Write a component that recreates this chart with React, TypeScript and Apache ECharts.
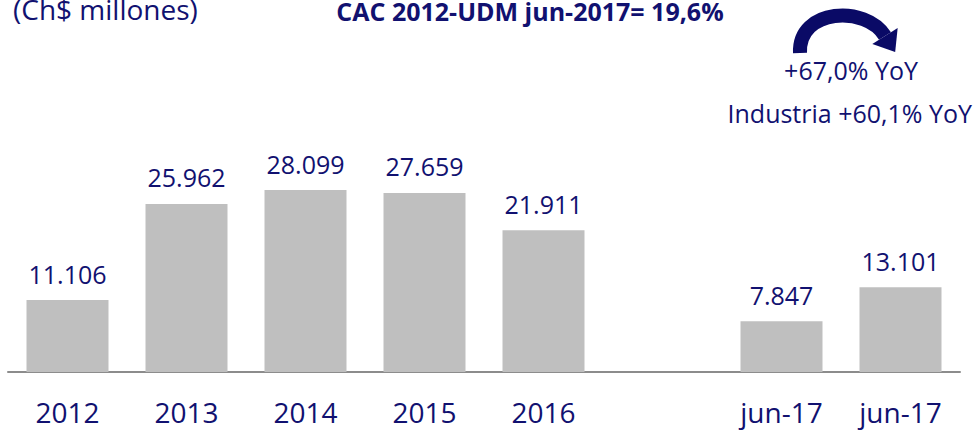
import React, { useEffect, useRef } from "react";
import * as echarts from "echarts";

const categories = ["2012", "2013", "2014", "2015", "2016", "", "jun-17", "jun-17"];
const values: (number | null)[] = [11106, 25962, 28099, 27659, 21911, null, 7847, 13101];
const unitLabel = "(Ch$ millones)";
const titleText = "CAC 2012-UDM jun-2017= 19,6%";
const yoyText = "+67,0% YoY";
const industryText = "Industria +60,1% YoY";

const NAVY = "#111170";
const FONT = "'Open Sans', 'Noto Sans', sans-serif";

function fmt(v: number): string {
  return String(v).replace(/\B(?=(\d{3})+(?!\d))/g, ".");
}

export default function App() {
  const ref = useRef<HTMLDivElement>(null);
  useEffect(() => {
    if (!ref.current) return;
    const chart = echarts.init(ref.current, null, { renderer: "svg" });
    // arrow geometry
    const p0 = [800, 53], c1 = [798, 8], c2 = [866, 5], p1 = [885, 36];
    const tx = 0.535, ty = 0.845, nx = 0.845, ny = -0.535;
    chart.setOption({
      animation: false,
      grid: { left: 8, right: 17, top: 113, bottom: 58, containLabel: false },
      xAxis: {
        type: "category",
        data: categories,
        axisLine: { show: true, lineStyle: { color: "#8c8c8c", width: 2 } },
        axisTick: { show: false },
        axisLabel: { color: NAVY, fontSize: 28, fontFamily: FONT, margin: 26 },
      },
      yAxis: { type: "value", min: 0, max: 40000, show: false, splitLine: { show: false } },
      series: [
        {
          type: "bar",
          data: values,
          barWidth: 82,
          itemStyle: { color: "#bfbfbf" },
          label: {
            show: true,
            position: "top",
            distance: 14,
            color: NAVY,
            fontSize: 25,
            fontFamily: FONT,
            formatter: (p: any) => (p.value == null ? "" : fmt(p.value)),
          },
        },
      ],
      graphic: [
        {
          type: "text",
          left: 13,
          top: -5,
          style: { text: unitLabel, fill: NAVY, fontSize: 28, fontFamily: FONT },
        },
        {
          type: "text",
          x: 530,
          y: -2,
          style: {
            text: titleText,
            fill: NAVY,
            fontSize: 25,
            fontWeight: "bold",
            fontFamily: FONT,
            align: "center",
            verticalAlign: "top",
          },
        },
        {
          type: "bezierCurve",
          shape: { x1: p0[0], y1: p0[1], cpx1: c1[0], cpy1: c1[1], cpx2: c2[0], cpy2: c2[1], x2: p1[0], y2: p1[1] },
          style: { stroke: "#0a0a66", lineWidth: 14, fill: null },
        },
        {
          type: "polygon",
          shape: {
            points: [
              [p1[0] + 15 * nx, p1[1] + 15 * ny],
              [p1[0] - 15 * nx, p1[1] - 15 * ny],
              [p1[0] + 19 * tx, p1[1] + 19 * ty],
            ],
          },
          style: { fill: "#0a0a66" },
        },
        {
          type: "text",
          x: 851,
          y: 57,
          style: { text: yoyText, fill: NAVY, fontSize: 25, fontFamily: FONT, align: "center", verticalAlign: "top" },
        },
        {
          type: "text",
          x: 972,
          y: 100,
          style: { text: industryText, fill: NAVY, fontSize: 25, fontFamily: FONT, align: "right", verticalAlign: "top" },
        },
      ],
    });
    return () => chart.dispose();
  }, []);
  return <div ref={ref} style={{ position: "absolute", left: 0, top: 0, width: 977, height: 430 }} />;
}
